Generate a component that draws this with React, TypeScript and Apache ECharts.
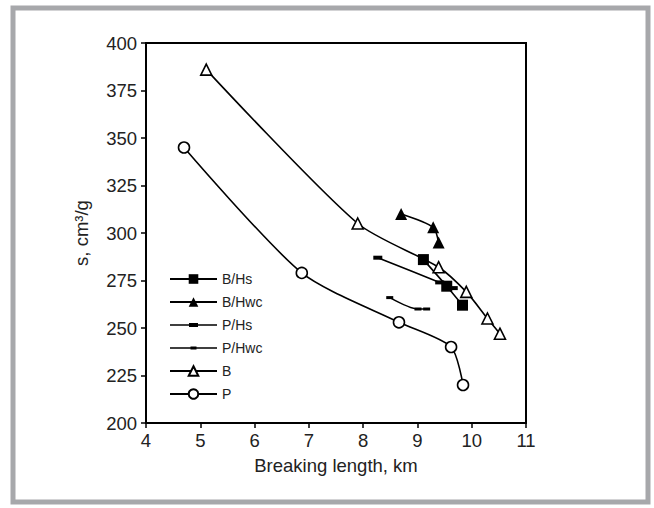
import React, { useEffect, useRef } from "react";
import * as echarts from "echarts";

const seriesNames = ["B/Hs", "B/Hwc", "P/Hs", "P/Hwc", "B", "P"];

const bHs: [number, number][] = [
  [9.11, 286],
  [9.54, 272],
  [9.83, 262],
];
const bHwc: [number, number][] = [
  [8.7, 310],
  [9.29, 303],
  [9.39, 295],
];
const pHs: [number, number][] = [
  [8.27, 287],
  [9.41, 274],
  [9.66, 271],
];
const pHwc: [number, number][] = [
  [8.49, 266],
  [9.01, 260],
  [9.17, 260],
];
const bData: [number, number][] = [
  [5.11, 386],
  [7.9, 305],
  [9.39, 282],
  [9.9, 269],
  [10.29, 255],
  [10.52, 247],
];
const pData: [number, number][] = [
  [4.7, 345],
  [6.87, 279],
  [8.66, 253],
  [9.62, 240],
  [9.84, 220],
];

const xAxisName = "Breaking length, km";
const yAxisName = "s, cm\u00b3/g";

// legend icons for the dash-marker series: a thin line with a small dash in the middle
const corners = "M0,0h0.01v0.01h-0.01z M46.99,11.99h0.01v0.01h-0.01z ";
const dashIconLarge = "path://" + corners + "M0,5.2h47v1.6h-47z M19,4h9v4h-9z";
const dashIconSmall = "path://" + corners + "M0,5.2h47v1.6h-47z M20.5,4.5h6v3h-6z";

export default function App() {
  const ref = useRef<HTMLDivElement>(null);
  useEffect(() => {
    if (!ref.current) return;
    const chart = echarts.init(ref.current, undefined, { renderer: "svg" });
    const font = "Liberation Sans, Arial, sans-serif";
    const base = {
      type: "line",
      smooth: 0.25,
      lineStyle: { color: "#000", width: 1.6 },
      z: 3,
    };
    chart.setOption({
      animation: false,
      backgroundColor: "#fff",
      textStyle: { fontFamily: font },
      graphic: [
        {
          type: "rect",
          shape: { x: 13, y: 8, width: 635, height: 494 },
          style: { fill: "none", stroke: "#a7a8ab", lineWidth: 5 },
          silent: true,
        },
      ],
      grid: {
        left: 146,
        top: 43,
        right: 128,
        bottom: 85,
        show: true,
        borderColor: "#000",
        borderWidth: 2,
        backgroundColor: "#fff",
      },
      legend: {
        orient: "vertical",
        left: 169,
        top: 272,
        padding: 0,
        itemWidth: 47,
        itemHeight: 12,
        itemGap: 9,
        data: [
          { name: "B/Hs" },
          { name: "B/Hwc" },
          { name: "P/Hs", icon: dashIconLarge },
          { name: "P/Hwc", icon: dashIconSmall },
          { name: "B" },
          { name: "P" },
        ],
        textStyle: { fontSize: 14, color: "#222", fontFamily: font },
      },
      xAxis: {
        type: "value",
        min: 4,
        max: 11,
        interval: 1,
        name: xAxisName,
        nameLocation: "middle",
        nameGap: 33,
        nameTextStyle: { fontSize: 18.5, color: "#222" },
        axisLine: { show: true, lineStyle: { color: "#000", width: 2 } },
        axisTick: { show: true, length: 5, lineStyle: { color: "#000", width: 1.5 } },
        axisLabel: { fontSize: 18.5, color: "#222", margin: 8 },
        splitLine: { show: false },
      },
      yAxis: {
        type: "value",
        min: 200,
        max: 400,
        interval: 25,
        name: yAxisName,
        nameLocation: "middle",
        nameGap: 55,
        nameTextStyle: { fontSize: 18.5, color: "#222" },
        axisLine: { show: true, lineStyle: { color: "#000", width: 2 } },
        axisTick: { show: true, length: 5, lineStyle: { color: "#000", width: 1.5 } },
        axisLabel: { fontSize: 18.5, color: "#222", margin: 9 },
        splitLine: { show: false },
      },
      series: [
        {
          ...base,
          name: seriesNames[0],
          data: bHs,
          symbol: "rect",
          symbolSize: 11,
          itemStyle: { color: "#000" },
        },
        {
          ...base,
          name: seriesNames[1],
          data: bHwc,
          symbol: "triangle",
          symbolSize: 12,
          itemStyle: { color: "#000" },
        },
        {
          ...base,
          name: seriesNames[2],
          data: pHs,
          symbol: "rect",
          symbolSize: [9, 4],
          itemStyle: { color: "#000" },
        },
        {
          ...base,
          name: seriesNames[3],
          data: pHwc,
          symbol: "rect",
          symbolSize: [7, 3],
          itemStyle: { color: "#000" },
        },
        {
          ...base,
          name: seriesNames[4],
          data: bData,
          symbol: "triangle",
          symbolSize: 11,
          itemStyle: { color: "#fff", borderColor: "#000", borderWidth: 1.6 },
        },
        {
          ...base,
          name: seriesNames[5],
          data: pData,
          symbol: "circle",
          symbolSize: 11,
          itemStyle: { color: "#fff", borderColor: "#000", borderWidth: 1.6 },
        },
      ],
    });
    return () => chart.dispose();
  }, []);
  return (
    <div
      ref={ref}
      style={{ position: "absolute", left: 0, top: 0, width: 654, height: 508 }}
    />
  );
}
